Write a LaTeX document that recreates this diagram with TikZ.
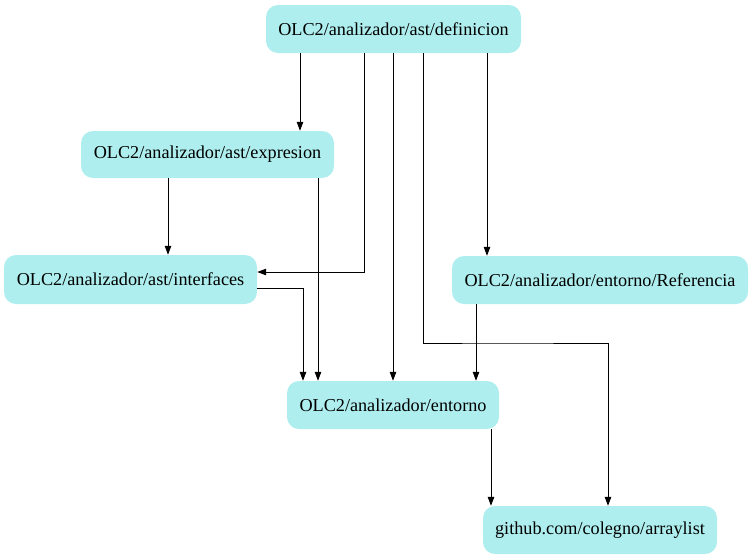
\documentclass[tikz,border=0pt]{standalone}
\usepackage{fontspec}
\setmainfont{Liberation Serif}
\usetikzlibrary{arrows.meta}
\definecolor{pturq}{HTML}{AFEEEE}
\tikzset{
  pkg/.style={fill=pturq, rounded corners=12pt, inner sep=0pt, font=\fontsize{18.2}{20}\selectfont},
  dep/.style={draw=black, line width=1pt, -{Triangle[length=9pt,width=6.5pt]}},
}
\begin{document}
\begin{tikzpicture}[x=1pt,y=-1pt]
\useasboundingbox (0,0) rectangle (753,560);
\node[pkg, minimum width=255pt, minimum height=48pt] (def) at (393.5,29) {OLC2/analizador/ast/definicion};
\node[pkg, minimum width=253pt, minimum height=47pt] (expr) at (207.5,154.5) {OLC2/analizador/ast/expresion};
\node[pkg, minimum width=253pt, minimum height=49pt] (intf) at (130.5,279.5) {OLC2/analizador/ast/interfaces};
\node[pkg, minimum width=296pt, minimum height=48pt] (ref) at (600,280) {OLC2/analizador/entorno/Referencia};
\node[pkg, minimum width=212pt, minimum height=48pt] (ent) at (393,405) {OLC2/analizador/entorno};
\node[pkg, minimum width=234pt, minimum height=48pt] (arr) at (600,530) {github.com/colegno/arraylist};

\draw[dep] (def.south -| 300,0) -- (expr.north -| 300,0);
\draw[dep] (def.south -| 364,0) |- (intf.east |- 0,272);
\draw[dep] (def.south -| 393,0) -- (ent.north -| 393,0);
\draw[dep] (def.south -| 423,0) |- (500,343) -| (arr.north -| 608,0);
\draw[dep] (def.south -| 487,0) -- (ref.north -| 487,0);
\draw[dep] (expr.south -| 168,0) -- (intf.north -| 168,0);
\draw[dep] (expr.south -| 318,0) -- (ent.north -| 318,0);
\draw[dep] (intf.east |- 0,288) -| (ent.north -| 303,0);
\draw[dep] (ref.south -| 476,0) -- (ent.north -| 476,0);
\draw[dep] (ent.south -| 491,0) -- (arr.north -| 491,0);
\end{tikzpicture}
\end{document}
